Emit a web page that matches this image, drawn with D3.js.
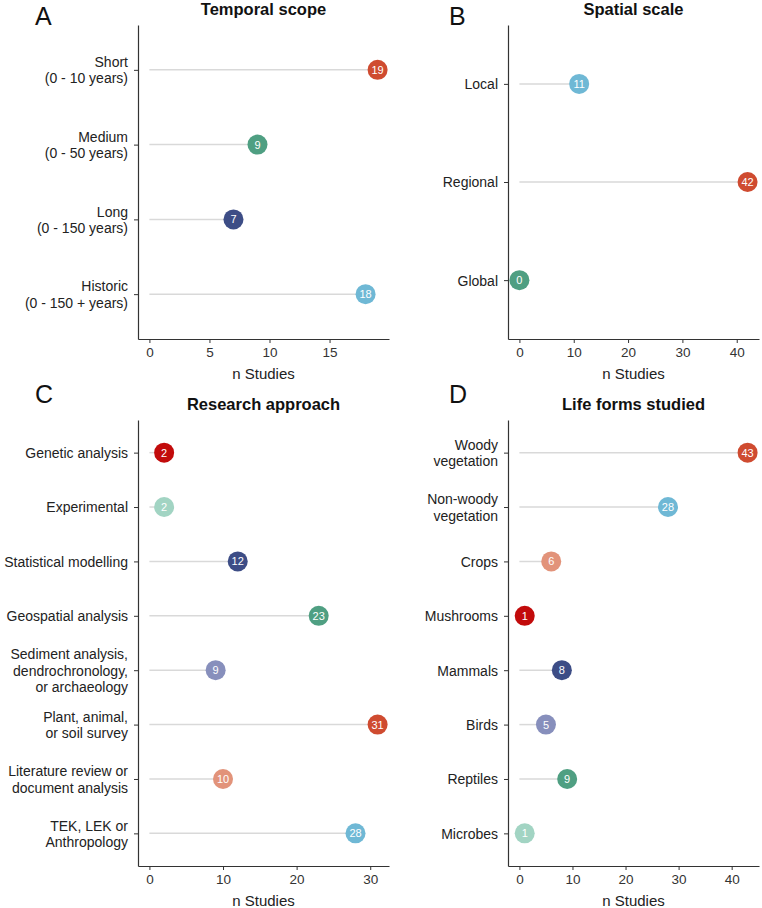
<!DOCTYPE html>
<html><head><meta charset="utf-8">
<script src="https://cdn.jsdelivr.net/npm/d3@7"></script>
<style>body{margin:0;background:#fff}svg{display:block;font-family:"Liberation Sans",Arial,Helvetica,sans-serif}</style>
</head><body><svg id="c" width="762" height="908"></svg>
<script>
// ---- Data ----
const temporalCats = ["Short\n(0 - 10 years)", "Medium\n(0 - 50 years)", "Long\n(0 - 150 years)", "Historic\n(0 - 150 + years)"];
const temporalVals = [19, 9, 7, 18];
const temporalCols = ["redorange", "green", "navy", "lightblue"];

const spatialCats = ["Local", "Regional", "Global"];
const spatialVals = [11, 42, 0];
const spatialCols = ["lightblue", "redorange", "green"];

const approachCats = ["Genetic analysis", "Experimental", "Statistical modelling", "Geospatial analysis",
  "Sediment analysis,\ndendrochronology,\nor archaeology", "Plant, animal,\nor soil survey",
  "Literature review or\ndocument analysis", "TEK, LEK or\nAnthropology"];
const approachVals = [2, 2, 12, 23, 9, 31, 10, 28];
const approachCols = ["darkred", "mint", "navy", "green", "lavender", "redorange", "salmon", "lightblue"];

const lifeCats = ["Woody\nvegetation", "Non-woody\nvegetation", "Crops", "Mushrooms", "Mammals", "Birds", "Reptiles", "Microbes"];
const lifeVals = [43, 28, 6, 1, 8, 5, 9, 1];
const lifeCols = ["redorange", "lightblue", "salmon", "darkred", "navy", "lavender", "green", "mint"];

const xTicksA = [0, 5, 10, 15];
const xTicksB = [0, 10, 20, 30, 40];
const xTicksC = [0, 10, 20, 30];
const xTicksD = [0, 10, 20, 30, 40];

const palette = {
  redorange: "#cf4b30", green: "#4f9f82", navy: "#3d4d86", lightblue: "#6fb8d5",
  darkred: "#c20b0b", mint: "#a2d4c3", lavender: "#878fbc", salmon: "#e2937a"
};

const svg = d3.select("#c");

function panel(opt) {
  const {letter, title, cats, vals, cols, ticks, left, right, top, bottom, lx, ly} = opt;
  const g = svg.append("g");
  const maxV = d3.max(vals);
  const pad = maxV * 0.05;
  const x = d3.scaleLinear().domain([-pad, maxV + pad]).range([left, right]);
  const y = d3.scalePoint().domain(cats).range([top, bottom]).padding(0.6);

  // panel letter
  g.append("text").attr("x", lx).attr("y", ly).attr("font-size", 25).attr("fill", "#111").text(letter);
  // title
  g.append("text").attr("x", (left + right) / 2).attr("y", top - 10).attr("text-anchor", "middle")
    .attr("font-size", 16.5).attr("font-weight", "bold").attr("fill", "#111").text(title);

  // segments
  g.selectAll("line.seg").data(cats).join("line").attr("class", "seg")
    .attr("x1", x(0)).attr("x2", (d, i) => x(vals[i]))
    .attr("y1", d => y(d)).attr("y2", d => y(d))
    .attr("stroke", "#d9d9d9").attr("stroke-width", 1.5);

  // axes
  const xa = g.append("g").attr("transform", `translate(0,${bottom})`)
    .call(d3.axisBottom(x).tickValues(ticks).tickSize(4).tickSizeOuter(0));
  xa.select(".domain").attr("stroke", "#333").attr("stroke-width", 1.2);
  xa.selectAll(".tick line").attr("stroke", "#333");
  xa.selectAll(".tick text").attr("font-size", 13.5).attr("fill", "#333").attr("dy", "0.85em");

  const ya = g.append("g").attr("transform", `translate(${left},0)`)
    .call(d3.axisLeft(y).tickSize(4).tickSizeOuter(0));
  ya.select(".domain").attr("stroke", "#333").attr("stroke-width", 1.2);
  ya.selectAll(".tick line").attr("stroke", "#333");
  ya.selectAll(".tick text").each(function(d) {
    const t = d3.select(this);
    const lines = d.split("\n");
    t.text(null).attr("font-size", 14).attr("fill", "#222").attr("x", -10).attr("dy", null);
    const lh = 16.5;
    lines.forEach((ln, k) => {
      t.append("tspan").attr("x", -10)
        .attr("y", (k - (lines.length - 1) / 2) * lh)
        .attr("dy", "0.35em").text(ln);
    });
  });

  // axis title
  g.append("text").attr("x", (left + right) / 2).attr("y", bottom + 40).attr("text-anchor", "middle")
    .attr("font-size", 15).attr("fill", "#222").text("n Studies");

  // dots
  g.selectAll("circle.dot").data(cats).join("circle").attr("class", "dot")
    .attr("cx", (d, i) => x(vals[i])).attr("cy", d => y(d)).attr("r", 10)
    .attr("fill", (d, i) => palette[cols[i]]);
  g.selectAll("text.val").data(cats).join("text").attr("class", "val")
    .attr("x", (d, i) => x(vals[i])).attr("y", d => y(d)).attr("dy", "0.36em")
    .attr("text-anchor", "middle").attr("font-size", 11).attr("fill", "#fff")
    .text((d, i) => vals[i]);
}

panel({letter: "A", title: "Temporal scope", cats: temporalCats, vals: temporalVals, cols: temporalCols,
  ticks: xTicksA, left: 138, right: 389, top: 25, bottom: 339, lx: 35, ly: 25});
panel({letter: "B", title: "Spatial scale", cats: spatialCats, vals: spatialVals, cols: spatialCols,
  ticks: xTicksB, left: 508, right: 759, top: 25, bottom: 339, lx: 449, ly: 25});
panel({letter: "C", title: "Research approach", cats: approachCats, vals: approachVals, cols: approachCols,
  ticks: xTicksC, left: 138, right: 389, top: 420, bottom: 866, lx: 35, ly: 403});
panel({letter: "D", title: "Life forms studied", cats: lifeCats, vals: lifeVals, cols: lifeCols,
  ticks: xTicksD, left: 508, right: 759, top: 420, bottom: 866, lx: 449, ly: 403});
</script></body></html>
